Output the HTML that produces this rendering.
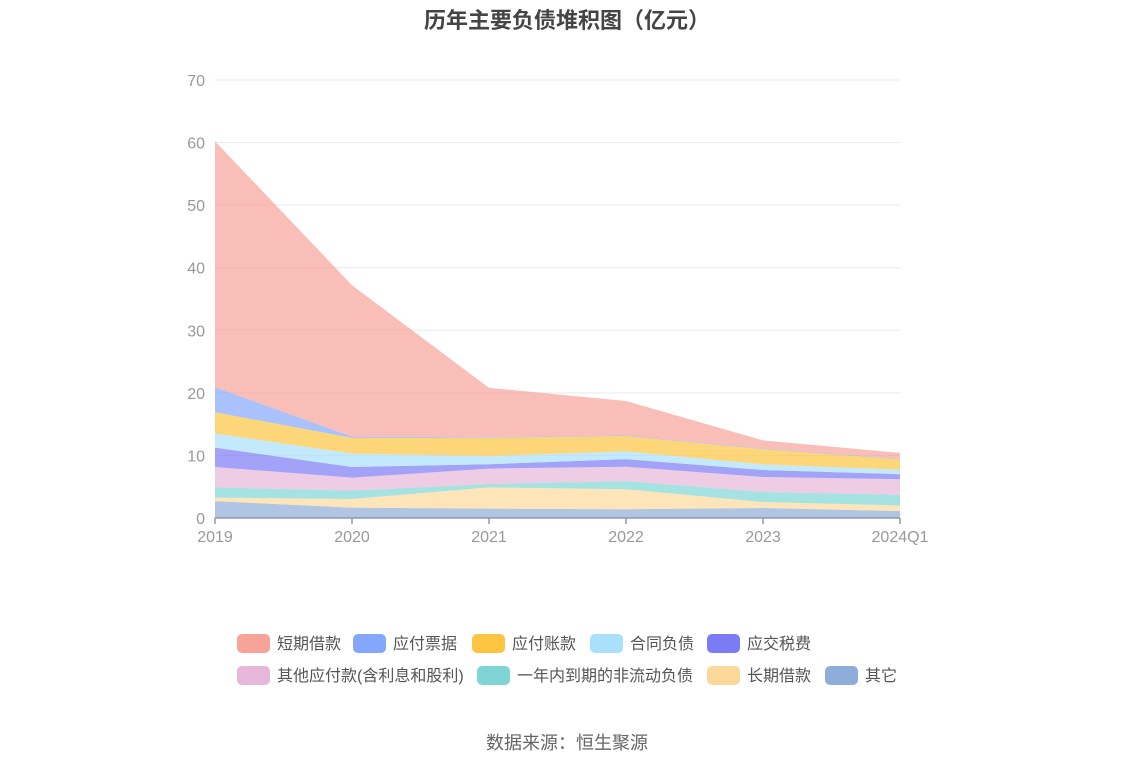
<!DOCTYPE html>
<html><head><meta charset="utf-8">
<style>
body{margin:0;background:#fff;font-family:"Liberation Sans","Noto Sans CJK SC",sans-serif;}
#wrap{position:relative;width:1134px;height:766px;overflow:hidden;}
.t{position:absolute;white-space:nowrap;}
</style></head><body>
<div id="wrap">
<div class="t" style="left:0;width:1134px;text-align:center;top:3px;font-size:22px;font-weight:bold;color:#444;">历年主要负债堆积图（亿元）</div>
<svg id="chart" width="1134" height="766" style="position:absolute;left:0;top:0"></svg>
<div class="t" style="left:0;width:1134px;text-align:center;top:729px;font-size:18px;color:#666;">数据来源：恒生聚源</div>
</div>
<script>
const categories=["2019","2020","2021","2022","2023","2024Q1"];
const seriesNames=["其它","长期借款","一年内到期的非流动负债","其他应付款(含利息和股利)","应交税费","合同负债","应付账款","应付票据","短期借款"];
const sOther=[2.7,1.65,1.5,1.4,1.6,1.1];
const sLong=[0.55,1.39,3.4,3.2,0.96,0.9];
const sCurrentNonCurrent=[1.65,1.33,0.53,1.3,1.6,1.7];
const sOtherPayable=[3.25,2.08,2.47,2.3,2.39,2.5];
const sTax=[3.1,1.7,0.7,1.2,1.12,0.8];
const sContract=[2.25,2.15,1.3,1.25,0.91,0.7];
const sAP=[3.4,2.5,2.9,2.45,2.42,1.7];
const sNotes=[4.0,0.2,0.1,0.1,0.1,0.1];
const sShort=[39.3,24.2,7.9,5.5,1.3,0.9];
const yTicks=[0,10,20,30,40,50,60,70];
const seriesData=[sOther,sLong,sCurrentNonCurrent,sOtherPayable,sTax,sContract,sAP,sNotes,sShort];
const colors=["#8fadd9","#fdd89b","#7fd5d5","#e6b7d9","#7b7bf5","#a9e0fb","#fdc541","#84a6fb","#f8a39a"];
const areaNames=["area-other","area-long-term-loan","area-current-noncurrent","area-other-payable","area-tax","area-contract","area-accounts-payable","area-notes-payable","area-short-term-loan"];
const NS="http://www.w3.org/2000/svg";
const svg=document.getElementById('chart');
const x0=215,x1=900,y0=518,yTop=80,yMax=70;
const xs=i=>x0+(x1-x0)*i/(categories.length-1);
const ys=v=>y0-(y0-yTop)*v/yMax;
function mk(tag,attrs){const e=document.createElementNS(NS,tag);for(const k in attrs)e.setAttribute(k,attrs[k]);svg.appendChild(e);return e;}
yTicks.forEach(v=>{
 if(v>0){const g=mk('line',{x1:x0,x2:x1,y1:ys(v),y2:ys(v),stroke:'#e6e9f0','stroke-width':1});
 
 }
 const t=mk('text',{x:205,y:ys(v)+6,'text-anchor':'end','font-size':16,fill:'#999','font-family':'Liberation Sans, sans-serif'});
 t.textContent=v;
 
 
});
let cum=categories.map(()=>0);
seriesData.forEach((s,k)=>{
 const lower=cum.slice();const upper=cum.map((c,i)=>c+s[i]);
 let d='';
 upper.forEach((v,i)=>{d+=(i?'L':'M')+xs(i)+','+ys(v);});
 for(let i=lower.length-1;i>=0;i--)d+='L'+xs(i)+','+ys(lower[i]);
 const p=mk('path',{d:d+'Z',fill:colors[k],'fill-opacity':0.7,stroke:'none'});
 
 
 cum=upper;
});
const ax=mk('line',{x1:x0,x2:x1,y1:y0,y2:y0,stroke:'#8f9aa8','stroke-width':1.5});


categories.forEach((c,i)=>{
 const tk=mk('line',{x1:xs(i),x2:xs(i),y1:y0,y2:y0+6,stroke:'#8f9aa8','stroke-width':1.5});
 
 
 const t=mk('text',{x:xs(i),y:y0+24,'text-anchor':'middle','font-size':16,fill:'#999','font-family':'Liberation Sans, sans-serif'});
 t.textContent=c;
 
 
});
const legendNames=["短期借款","应付票据","应付账款","合同负债","应交税费","其他应付款(含利息和股利)","一年内到期的非流动负债","长期借款","其它"];
const legendColors=["#f8a39a","#84a6fb","#fdc541","#a9e0fb","#7b7bf5","#e6b7d9","#7fd5d5","#fdd89b","#8fadd9"];
const legendX=[237,353,472,590,707,237,477,707,825];
const legendY=[643,643,643,643,643,675,675,675,675];
legendNames.forEach((n,i)=>{
 const r=mk('rect',{x:legendX[i],y:legendY[i]-9,width:33,height:19,rx:5,fill:legendColors[i]});
 
 
 const t=mk('text',{x:legendX[i]+40,y:legendY[i]+6,'font-size':16,fill:'#555','font-family':'Liberation Sans, Noto Sans CJK SC, sans-serif'});
 t.textContent=n;
 
 
});
</script>
</body></html>
